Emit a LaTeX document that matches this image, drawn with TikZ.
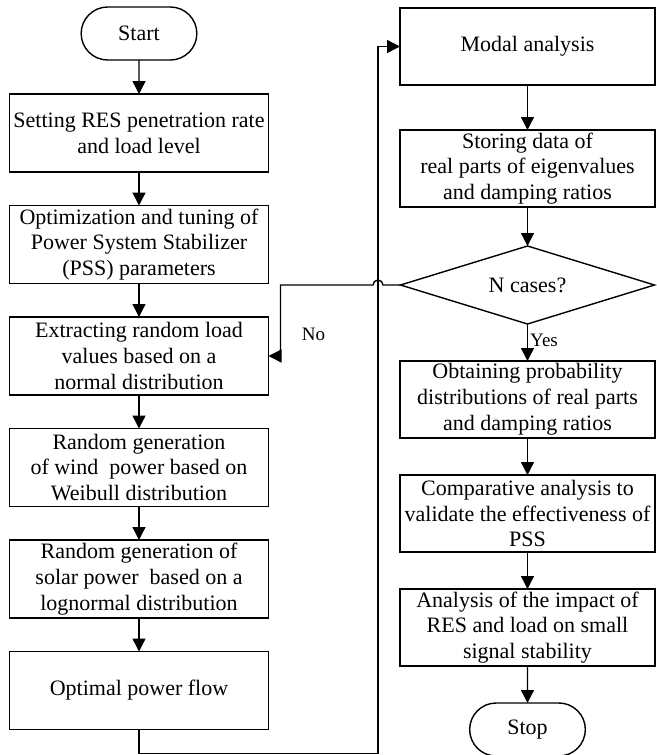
\documentclass[tikz,border=0pt]{standalone}
\usepackage{fontspec}
\setmainfont{Liberation Serif}
\usetikzlibrary{shapes.geometric, shapes.misc, arrows.meta, positioning}

\begin{document}
\begin{tikzpicture}[
    node distance=16.75pt,
    font=\fontsize{11}{12.9}\selectfont,
    process/.style={rectangle, draw, align=center, minimum width=129.5pt, minimum height=39pt, inner xsep=1pt, inner ysep=0pt, outer sep=0pt, line width=0.7pt},
    rprocess/.style={process, minimum width=127.5pt, minimum height=38.5pt},
    terminal/.style={rounded rectangle, draw, minimum width=64.5pt, minimum height=26.5pt, outer sep=0pt, line width=0.7pt},
    decision/.style={diamond, draw, aspect=3.3, minimum width=127pt, minimum height=39pt, inner sep=0pt, outer sep=0pt, line width=0.7pt},
    lbl/.style={font=\fontsize{9.5}{11}\selectfont, inner sep=1pt},
    arrow/.style={-{Triangle[length=6.5pt, width=6.5pt]}, line width=0.7pt},
]
\useasboundingbox (0,0) rectangle (328.5pt,-377.5pt);

% left column
\node[terminal] (start) at (69.5pt,-16.75pt) {Start};
\node[process, below=17pt of start] (setting) {Setting RES penetration rate\\and load level};
\node[process, below=of setting] (pss) {Optimization and tuning of\\Power System Stabilizer\\(PSS) parameters};
\node[process, below=of pss] (load) {Extracting random load\\values based on a\\normal distribution};
\node[process, below=of load] (wind) {Random generation\\of wind\ \ power based on\\Weibull distribution};
\node[process, below=of wind] (solar) {Random generation of\\solar power\ \ based on a\\lognormal distribution};
\node[process, below=of solar] (opf) {Optimal power flow};

% right column
\node[rprocess] (modal) at (263.75pt,-23.25pt) {Modal analysis};
\node[rprocess, below=22.5pt of modal] (store) {Storing data of\\real parts of eigenvalues\\and damping ratios};
\node[decision, below=19.5pt of store] (ncase) {N cases?};
\node[rprocess, below=18.5pt of ncase] (prob) {Obtaining probability\\distributions of real parts\\and damping ratios};
\node[rprocess, below=18.5pt of prob] (compare) {Comparative analysis to\\validate the effectiveness of\\PSS};
\node[rprocess, below=18.5pt of compare] (impact) {Analysis of the impact of\\RES and load on small\\signal stability};
\node[terminal, below=18.5pt of impact] (stop) {Stop};

\coordinate (jump) at ([xshift=-11pt]modal.west);

\draw[arrow] (start) -- (setting);
\draw[arrow] (setting) -- (pss);
\draw[arrow] (pss) -- (load);
\draw[arrow] (load) -- (wind);
\draw[arrow] (wind) -- (solar);
\draw[arrow] (solar) -- (opf);
\draw[arrow] (opf.south) -- ++(0,-12pt) -| (jump) -- (modal.west);

\draw[arrow] (modal) -- (store);
\draw[arrow] (store) -- (ncase);
\draw[arrow] (ncase) -- node[lbl, right, pos=0.45] (yes) {Yes} (prob);
\draw[arrow] (prob) -- (compare);
\draw[arrow] (compare) -- (impact);
\draw[arrow] (impact) -- (stop);

% loop back, hopping over the line to modal analysis
\draw[arrow] (ncase.west) -- ([xshift=2.5pt]jump |- ncase.west)
    arc[start angle=0, end angle=180, radius=2.5pt]
    -| ([xshift=6pt]load.east) -- (load.east);
\node[lbl] (no) at ([xshift=22.5pt, yshift=11pt]load.east) {No};
\end{tikzpicture}
\end{document}
